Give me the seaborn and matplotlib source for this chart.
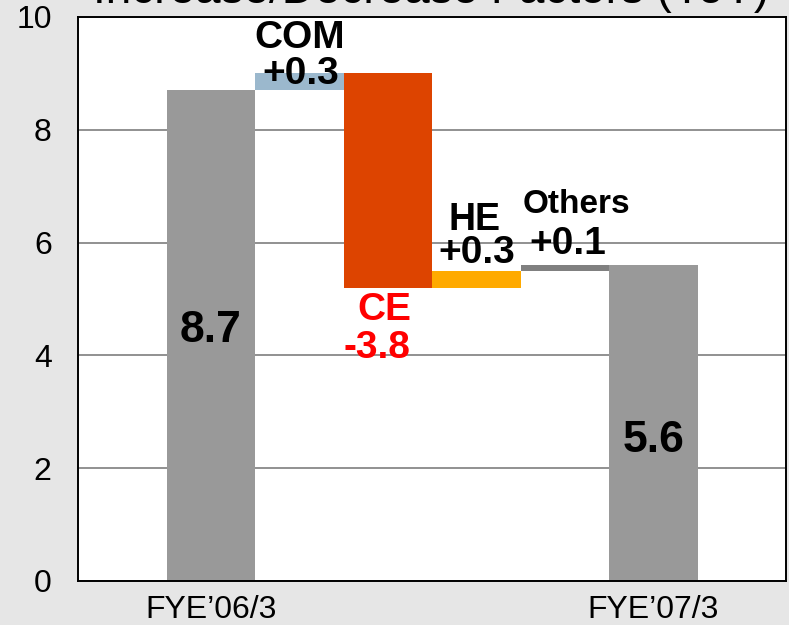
import matplotlib
matplotlib.use("Agg")
import matplotlib.pyplot as plt
import seaborn as sns
import numpy as np

# ---- data ----
categories = ["FYE’06/3", "COM", "CE", "HE", "Others", "FYE’07/3"]
values = [8.7, 0.3, -3.8, 0.3, 0.1, 5.6]
is_total = [True, False, False, False, False, True]
tick_labels = ["FYE’06/3", "", "", "", "", "FYE’07/3"]
bar_colors = ["#999999", "#9BB8CD", "#DD4400", "#FFAA00", "#808080", "#999999"]
title = "Increase/Decrease Factors (YoY)"

# waterfall bottoms / heights
bottoms, heights = [], []
running = 0.0
for v, tot in zip(values, is_total):
    if tot:
        bottoms.append(0.0)
        heights.append(v)
        running = v
    else:
        bottoms.append(running)
        heights.append(v)
        running += v

sns.set_theme(style="white")
plt.rcParams["font.family"] = ["Liberation Sans", "DejaVu Sans"]

fig = plt.figure(figsize=(7.89, 6.25), dpi=100, facecolor="#E6E6E6")
ax = fig.add_axes([0.0989, 0.0704, 0.8973, 0.9024])
ax.set_facecolor("white")

sns.barplot(x=categories, y=heights, bottom=bottoms, order=categories,
            color="#999999", width=1.0, errorbar=None, ax=ax,
            linewidth=0, saturation=1)
for p, c in zip(ax.patches, bar_colors):
    p.set_facecolor(c)
    p.set_edgecolor("none")
    p.set_zorder(3)

ax.set_xlim(-1.5, 6.5)
ax.set_ylim(0, 10)
ax.set_yticks([0, 2, 4, 6, 8, 10])
ax.set_xticks(range(len(categories)))
ax.set_xticklabels(tick_labels)
ax.set_xlabel("")
ax.set_ylabel("")
ax.yaxis.grid(True, color="#888888", linewidth=1.3, zorder=0)
ax.set_axisbelow(True)
ax.tick_params(axis="y", length=0, pad=19, labelsize=23, colors="black")
ax.tick_params(axis="x", length=0, pad=10, labelsize=23, colors="black")
for s in ax.spines.values():
    s.set_visible(True)
    s.set_color("black")
    s.set_linewidth(1.4)
    s.set_zorder(5)

# value / factor labels
ann = [
    (0, 4.45, "8.7", 32, "black"),
    (5, 2.5, "5.6", 32, "black"),
    (1, 9.63, "COM", 28, "black"),
    (1.02, 8.99, "+0.3", 28, "black"),
    (1.96, 4.80, "CE", 28, "#FF0000"),
    (1.88, 4.13, "-3.8", 28, "#FF0000"),
    (2.98, 6.40, "HE", 27, "black"),
    (3.0, 5.82, "+0.3", 28, "black"),
    (4.13, 6.67, "Others", 24, "black"),
    (4.04, 5.97, "+0.1", 28, "black"),
]
for x, y, t, fs, col in ann:
    ax.text(x, y, t, ha="center", va="center", fontsize=fs,
            fontweight="bold", color=col, zorder=6)

fig.text(0.546, 0.995, title, ha="center", va="baseline", fontsize=33,
         color="black")

fig.savefig("out.png", dpi=100, facecolor=fig.get_facecolor())
